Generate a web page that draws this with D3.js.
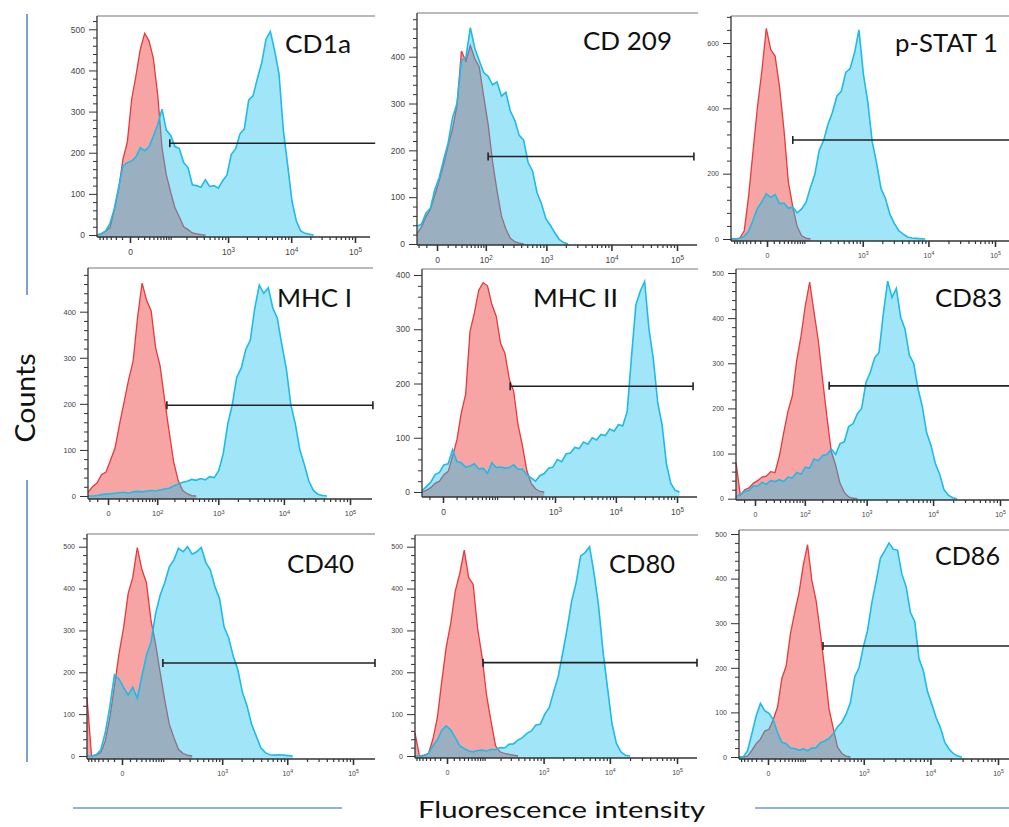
<!DOCTYPE html>
<html lang="en">
<head>
<meta charset="UTF-8">
<title>Flow cytometry histograms</title>
<script src="https://d3js.org/d3.v7.min.js"></script>
<style>
  body { margin: 0; background: #fff; }
  svg text { font-family: "Liberation Sans", Arial, sans-serif; }
  .big { font-family: Lato, "Open Sans", sans-serif !important; fill: #111; }
</style>
</head>
<body>
<svg id="viz" width="1009" height="827"></svg>
<script>
// panel names (read left to right, top to bottom)
var markers = ["CD1a", "CD 209", "p-STAT 1", "MHC I", "MHC II", "CD83", "CD40", "CD80", "CD86"];

// counts per display channel (64 channels span each x axis; a series stops once it is back at 0)
// red = isotype control, blue = stained
var isoCD1a   = [0,3,9,18,62,112,185,226,330,388,452,490,472,430,342,212,146,104,66,44,20,13,5,3,1,0];
var stCD1a    = [0,3,10,28,64,116,168,176,180,190,212,205,214,240,268,306,255,242,215,210,176,164,122,120,116,134,118,120,114,132,146,196,210,246,258,328,338,380,418,476,495,448,392,255,170,82,34,10,4,2,0];
var isoCD209  = [22,36,58,74,104,136,170,210,246,296,412,390,424,396,378,316,256,176,114,60,32,12,5,2,0];
var stCD209   = [38,42,66,76,116,142,180,216,270,300,392,398,462,418,392,366,358,340,346,316,324,284,264,232,222,174,156,110,86,54,40,24,10,3,0];
var isoSTAT1  = [0,0,3,25,132,270,405,515,645,580,560,465,335,175,98,38,10,3,0];
var stSTAT1   = [0,0,2,8,24,58,94,114,138,128,136,108,110,94,98,80,92,112,158,198,272,302,352,388,438,452,510,522,570,640,505,420,298,232,154,124,76,48,26,15,6,3,2,1,0];
var isoMHC1   = [8,20,28,46,52,78,104,156,204,252,292,388,462,425,402,322,282,208,140,74,34,12,5,1,0];
var stMHC1    = [0,0,1,3,4,5,6,7,8,6,9,10,9,11,12,11,13,15,17,22,26,30,32,36,34,38,35,42,40,55,92,156,198,258,278,318,338,408,458,440,452,408,386,328,276,198,156,100,68,32,12,4,1,0];
var isoMHC2   = [0,3,8,16,20,32,38,66,96,146,180,296,330,372,386,380,346,324,274,256,208,186,124,86,40,16,6,1,0];
var stMHC2    = [2,10,18,32,36,50,52,78,56,54,46,48,52,42,44,34,54,45,46,44,45,50,42,42,32,26,20,30,34,44,46,60,56,70,72,82,80,92,88,100,96,106,104,116,112,124,122,148,250,345,370,388,300,245,165,124,52,16,3,0];
var isoCD83   = [80,8,20,24,34,40,48,50,60,58,94,146,194,228,306,360,428,480,414,350,262,180,104,74,34,14,4,1,0];
var stCD83    = [4,10,16,18,28,28,36,32,40,38,42,38,48,46,58,54,70,68,88,84,96,98,110,98,122,126,160,166,188,200,258,280,312,324,410,482,446,466,402,376,318,300,244,204,146,118,78,54,20,8,2,0];
var isoCD40   = [140,0,2,8,36,92,166,244,306,388,426,498,446,414,324,268,200,134,76,44,16,6,2,0];
var stCD40    = [0,0,3,14,56,118,194,184,164,146,164,138,190,240,272,340,384,414,452,468,496,488,500,482,488,498,462,444,404,376,308,282,238,206,152,120,76,48,20,8,3,2,3,2,1,0];
var isoCD80   = [55,0,2,6,40,92,180,262,318,394,436,492,426,410,304,236,144,82,24,10,6,4,2,0];
var stCD80    = [0,0,0,6,24,38,62,72,62,44,24,18,12,10,13,14,12,16,15,20,19,28,29,38,44,54,60,74,76,100,116,154,190,246,304,370,414,478,486,500,436,360,250,164,78,30,10,2,0];
var isoCD86   = [0,0,2,15,30,40,58,62,84,112,176,204,276,324,368,430,476,396,350,278,196,108,64,22,8,2,0];
var stCD86    = [0,0,14,52,92,120,104,98,84,54,33,30,20,19,15,18,14,20,21,32,36,42,52,68,78,96,122,180,200,246,284,346,394,446,462,480,466,464,410,382,324,304,220,194,146,118,88,66,33,18,8,2,0];

var isotype = [isoCD1a, isoCD209, isoSTAT1, isoMHC1, isoMHC2, isoCD83, isoCD40, isoCD80, isoCD86];
var stained = [stCD1a, stCD209, stSTAT1, stMHC1, stMHC2, stCD83, stCD40, stCD80, stCD86];

// marker gates: start / end channel and count level
var gateStart = [16.8, 16.0, 14.0, 17.5, 20.2, 21.5, 16.6, 15.2, 19.6];
var gateEnd   = [64.2, 62.3, 64.5, 63.2, 62.1, 64.5, 63.0, 63.0, 64.5];
var gateLevel = [223, 187, 303, 197, 195, 250, 222, 223, 249];

// y axis: highest labelled tick and label step
var yTopTick = [500, 400, 600, 400, 400, 500, 500, 500, 500];
var yStep    = [100, 100, 200, 100, 100, 100, 100, 100, 100];
// which panels label 10^2
var show100  = [false, true, false, true, false, true, false, false, false];

// panel geometry (pixels)
var panels = [
  {xL: 97,  xR: 370,  axisY: 237, top: 16,  right: 375,  y0: 235,   yT: 29.3,  c: 30, p0: 130, p5: 355,  tx: 285, ty: 53,  tw: 66,  capR: false, fs: 8.5},
  {xL: 417, xR: 697,  axisY: 245, top: 13,  right: 698,  y0: 244,   yT: 56.7,  c: 22, p0: 437, p5: 677,  tx: 583, ty: 50,  tw: 89,  capR: true,  fs: 8.5},
  {xL: 731, xR: 1009, axisY: 241, top: 16,  right: 1009, y0: 239,   yT: 43,    c: 38, p0: 767, p5: 995,  tx: 895, ty: 52,  tw: 103, capR: false, fs: 7},
  {xL: 88,  xR: 372,  axisY: 499, top: 268, right: 373,  y0: 496,   yT: 311.7, c: 22, p0: 108, p5: 350,  tx: 277, ty: 307, tw: 75,  capR: true,  fs: 7.5},
  {xL: 422, xR: 697,  axisY: 497, top: 269, right: 698,  y0: 492,   yT: 275,   c: 15, p0: 443, p5: 677,  tx: 533, ty: 307, tw: 85,  capR: true,  fs: 8.5},
  {xL: 736, xR: 1009, axisY: 500, top: 269, right: 1009, y0: 498.7, yT: 273,   c: 22, p0: 755, p5: 1000, tx: 935, ty: 307, tw: 67,  capR: false, fs: 7},
  {xL: 87,  xR: 375,  axisY: 759, top: 534, right: 375,  y0: 756,   yT: 546.7, c: 31, p0: 122, p5: 353,  tx: 287, ty: 573, tw: 67,  capR: true,  fs: 7},
  {xL: 415, xR: 697,  axisY: 758, top: 535, right: 698,  y0: 756,   yT: 546.7, c: 38, p0: 447, p5: 677,  tx: 609, ty: 573, tw: 66,  capR: true,  fs: 7},
  {xL: 739, xR: 1009, axisY: 759, top: 530, right: 1009, y0: 757,   yT: 534,   c: 40, p0: 768, p5: 998,  tx: 935, ty: 565, tw: 65,  capR: false, fs: 7}
];

var redFill = "#f6a5a4", redLine = "#e8393b";
var blueFill = "rgb(18,192,238)", blueLine = "#1dbbea";
var axisCol = "#333";

var svg = d3.select("#viz");

// decorative rules
svg.append("line").attr("x1", 27).attr("x2", 27).attr("y1", 14).attr("y2", 295)
  .attr("stroke", "#7da2c8").attr("stroke-width", 2);
svg.append("line").attr("x1", 27).attr("x2", 27).attr("y1", 480).attr("y2", 762)
  .attr("stroke", "#7da2c8").attr("stroke-width", 2);
svg.append("line").attr("x1", 73).attr("x2", 342).attr("y1", 808).attr("y2", 808)
  .attr("stroke", "#8db3dd").attr("stroke-width", 2);
svg.append("line").attr("x1", 755).attr("x2", 1009).attr("y1", 808).attr("y2", 808)
  .attr("stroke", "#8db3dd").attr("stroke-width", 2);

panels.forEach(function(p, i) {
  var g = svg.append("g");
  var ch = d3.scaleLinear().domain([0, 63]).range([p.xL, p.xR]);
  var y = d3.scaleLinear().domain([0, yTopTick[i]]).range([p.y0, p.yT]);
  var fl = d3.scaleSymlog().constant(p.c).domain([0, 1e5]).range([p.p0, p.p5]);

  var area = d3.area().x(function(d, j) { return ch(j); }).y0(p.axisY).y1(function(d) { return y(d); });
  var line = d3.line().x(function(d, j) { return ch(j); }).y(function(d) { return y(d); });

  // histograms: isotype underneath, stained translucent on top
  g.append("path").datum(isotype[i]).attr("d", area).attr("fill", redFill);
  g.append("path").datum(isotype[i]).attr("d", line).attr("fill", "none")
    .attr("stroke", redLine).attr("stroke-width", 1.3);
  g.append("path").datum(stained[i]).attr("d", area).attr("fill", blueFill).attr("fill-opacity", 0.4);
  g.append("path").datum(stained[i]).attr("d", line).attr("fill", "none")
    .attr("stroke", blueLine).attr("stroke-width", 1.6);

  // frame: top rule and left axis line, bottom axis line
  g.append("line").attr("x1", p.xL).attr("x2", p.right).attr("y1", p.top).attr("y2", p.top)
    .attr("stroke", "#777").attr("stroke-width", 1.2);
  g.append("line").attr("x1", p.xL).attr("x2", p.xL).attr("y1", p.top).attr("y2", p.axisY)
    .attr("stroke", axisCol).attr("stroke-width", 1.3);
  g.append("line").attr("x1", p.xL).attr("x2", p.xR).attr("y1", p.axisY).attr("y2", p.axisY)
    .attr("stroke", axisCol).attr("stroke-width", 1.5);

  // y axis ticks
  var yMaj = d3.range(0, yTopTick[i] + 1, yStep[i]);
  var yMin = d3.range(0, yTopTick[i] + yStep[i], yStep[i] / 5).filter(function(v) {
    return yMaj.indexOf(v) < 0 && y(v) > p.top;
  });
  var ya = g.append("g").attr("transform", "translate(" + p.xL + ",0)")
    .call(d3.axisLeft(y).tickValues(yMaj).tickSize(8).tickSizeOuter(0).tickPadding(4));
  ya.select(".domain").remove();
  ya.selectAll(".tick line").attr("stroke", axisCol);
  ya.selectAll(".tick text").attr("fill", "#444").style("font-size", p.fs + "px").style("font-family", "Liberation Sans, Arial");
  var ym = g.append("g").attr("transform", "translate(" + p.xL + ",0)")
    .call(d3.axisLeft(y).tickValues(yMin).tickSize(4).tickFormat(""));
  ym.select(".domain").remove();
  ym.selectAll(".tick line").attr("stroke", axisCol);

  // x axis ticks (biexponential display)
  var xMaj = show100[i] ? [0, 1e2, 1e3, 1e4, 1e5] : [0, 1e3, 1e4, 1e5];
  var xMin = [];
  [10, 100, 1000, 10000].forEach(function(dec) {
    for (var m = 1; m < 10; m++) {
      var v = m * dec;
      if (xMaj.indexOf(v) < 0) xMin.push(v);
      if (dec < 1000) xMin.push(-v);
    }
  });
  xMin = xMin.filter(function(v) { return fl(v) > p.xL + 1 && fl(v) < p.xR; });
  var xa = g.append("g").attr("transform", "translate(0," + p.axisY + ")")
    .call(d3.axisBottom(fl).tickValues(xMaj.filter(function(v) { return fl(v) < 1009; }))
      .tickSize(6).tickSizeOuter(0).tickPadding(6)
      .tickFormat(function(d) { return d === 0 ? "0" : "10"; }));
  xa.select(".domain").remove();
  xa.selectAll(".tick line").attr("stroke", axisCol).attr("stroke-width", 1.6);
  xa.selectAll(".tick text").attr("fill", "#444").style("font-size", p.fs + "px")
    .each(function(d) {
      if (d > 0) {
        d3.select(this).append("tspan").attr("dy", "-0.5em").style("font-size", (p.fs * 0.75) + "px")
          .text(Math.round(Math.log10(d)));
      }
    });
  var xm = g.append("g").attr("transform", "translate(0," + p.axisY + ")")
    .call(d3.axisBottom(fl).tickValues(xMin).tickSize(3).tickFormat(""));
  xm.select(".domain").remove();
  xm.selectAll(".tick line").attr("stroke", axisCol).attr("stroke-width", 1.2);

  // gate marker
  var gy = y(gateLevel[i]);
  g.append("line").attr("x1", ch(gateStart[i])).attr("x2", ch(gateEnd[i])).attr("y1", gy).attr("y2", gy)
    .attr("stroke", "#222").attr("stroke-width", 1.6);
  g.append("line").attr("x1", ch(gateStart[i])).attr("x2", ch(gateStart[i])).attr("y1", gy - 4).attr("y2", gy + 4)
    .attr("stroke", "#222").attr("stroke-width", 1.6);
  if (p.capR) {
    g.append("line").attr("x1", ch(gateEnd[i])).attr("x2", ch(gateEnd[i])).attr("y1", gy - 4).attr("y2", gy + 4)
      .attr("stroke", "#222").attr("stroke-width", 1.6);
  }

  // marker name
  g.append("text").attr("class", "big").attr("x", p.tx).attr("y", p.ty)
    .attr("textLength", p.tw).attr("lengthAdjust", "spacingAndGlyphs")
    .style("font-size", "25px").text(markers[i]);
});

// shared axis titles
svg.append("text").attr("class", "big")
  .attr("transform", "translate(35,398) rotate(-90)")
  .attr("text-anchor", "middle")
  .attr("textLength", 89).attr("lengthAdjust", "spacingAndGlyphs")
  .style("font-size", "27px").text("Counts");
svg.append("text").attr("class", "big")
  .attr("x", 418).attr("y", 818)
  .attr("textLength", 287).attr("lengthAdjust", "spacingAndGlyphs")
  .style("font-size", "24px").text("Fluorescence intensity");
</script>
</body>
</html>
